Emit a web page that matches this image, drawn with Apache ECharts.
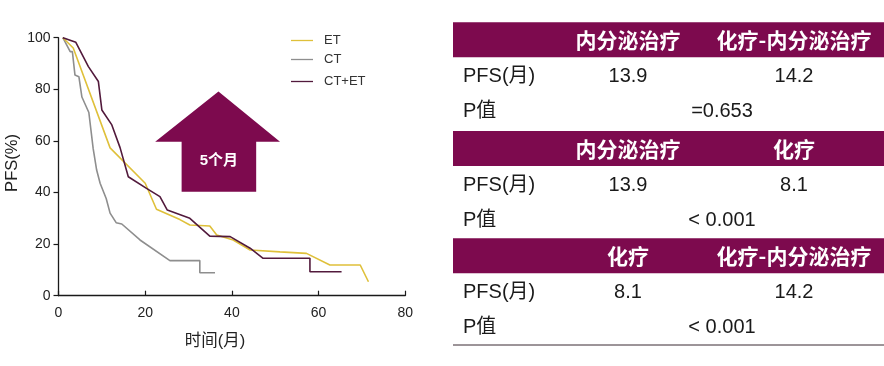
<!DOCTYPE html>
<html><head><meta charset="utf-8">
<script src="https://cdn.jsdelivr.net/npm/echarts@6/dist/echarts.min.js"></script>
<style>html,body{margin:0;padding:0;background:#fff}#c{width:884px;height:366px}</style>
</head><body><div id="c"></div>
<script>
// ---- data ----
var seriesNames = ['ET', 'CT', 'CT+ET'];
var etTime   = [1, 3.4, 11.9, 20, 22.6, 28, 30.3, 34.9, 36.5, 40.3, 44.2, 51.1, 57.2, 62.6, 69.6, 71.5];
var etPFS    = [100, 96, 57.3, 43.6, 33.5, 29.5, 27.4, 27, 23.5, 21.6, 17.7, 17, 16.4, 11.9, 11.9, 5.4];
var ctTime   = [1, 2.7, 3.2, 3.8, 4.7, 5.4, 7, 8, 8.8, 9.6, 11, 11.9, 13.3, 14.6, 18.8, 25.7, 32.6, 32.6, 36.1];
var ctPFS    = [100, 94.6, 94.6, 85.5, 84.9, 77, 71, 57, 48.7, 43.6, 37.7, 32, 28.3, 27.8, 21.6, 13.6, 13.6, 8.9, 8.9];
var ctetTime = [1, 4, 6.9, 9.2, 10, 12.3, 14.2, 16.1, 20.3, 23.4, 25.1, 30.3, 34.9, 39.6, 44.2, 47.2, 58, 58, 65.3];
var ctetPFS  = [100, 98.2, 88.8, 83, 72, 66.2, 57.4, 46.1, 41.6, 38.4, 33.2, 30, 23.1, 22.9, 18.4, 14.5, 14.5, 9.3, 9.3];
var xTicks = [0, 20, 40, 60, 80];
var yTicks = [0, 20, 40, 60, 80, 100];
var arrowLabel = '5个月';
// table
var tableHeaders = [['内分泌治疗', '化疗-内分泌治疗'], ['内分泌治疗', '化疗'], ['化疗', '化疗-内分泌治疗']];
var tablePFS = [['13.9', '14.2'], ['13.9', '8.1'], ['8.1', '14.2']];
var tableP = ['=0.653', '< 0.001', '< 0.001'];
var rowLabelPFS = 'PFS(月)';
var rowLabelP = 'P值';
var xName = '时间(月)';
var yName = 'PFS(%)';

// ---- chart ----
var colors = ['#dfc03a', '#8e8e8e', '#521a3c'];
var FONT = '"Liberation Sans", Arial, "Noto Sans CJK SC", sans-serif';
var MAROON = '#7d0a4e';
function zip(a, b) { return a.map(function (v, i) { return [v, b[i]]; }); }

var chart = echarts.init(document.getElementById('c'), null, { renderer: 'canvas' });
var legendTops = [29, 48, 70];
var option = {
  animation: false,
  textStyle: { fontFamily: FONT },
  grid: { left: 58.5, right: 478.7, top: 37.7, bottom: 70.3, containLabel: false },
  xAxis: {
    type: 'value', min: xTicks[0], max: xTicks[xTicks.length - 1], interval: 20,
    axisLine: { show: true, lineStyle: { color: '#1a1a1a', width: 1.3 } },
    axisTick: { show: true, inside: true, length: 5, lineStyle: { color: '#1a1a1a', width: 1.2 } },
    axisLabel: { color: '#222', fontSize: 14, margin: 10, fontFamily: FONT },
    splitLine: { show: false }
  },
  yAxis: {
    type: 'value', min: yTicks[0], max: yTicks[yTicks.length - 1], interval: 20,
    axisLine: { show: true, lineStyle: { color: '#1a1a1a', width: 1.3 } },
    axisTick: { show: true, inside: false, length: 5, lineStyle: { color: '#1a1a1a', width: 1.2 } },
    axisLabel: { color: '#222', fontSize: 14, margin: 8, fontFamily: FONT },
    splitLine: { show: false }
  },
  legend: seriesNames.map(function (n, i) {
    return {
      data: [n], left: 286, top: legendTops[i], orient: 'vertical',
      icon: 'rect', itemWidth: 22, itemHeight: 1.3,
      textStyle: { fontSize: 13, color: '#333', fontFamily: FONT, padding: [0, 0, 0, 6] },
      selectedMode: false
    };
  }),
  series: [
    { name: seriesNames[0], type: 'line', data: zip(etTime, etPFS), showSymbol: false, symbol: 'none',
      lineStyle: { color: colors[0], width: 1.6 }, itemStyle: { color: colors[0] }, z: 3 },
    { name: seriesNames[1], type: 'line', data: zip(ctTime, ctPFS), showSymbol: false, symbol: 'none',
      lineStyle: { color: colors[1], width: 1.6 }, itemStyle: { color: colors[1] }, z: 2 },
    { name: seriesNames[2], type: 'line', data: zip(ctetTime, ctetPFS), showSymbol: false, symbol: 'none',
      lineStyle: { color: colors[2], width: 1.6 }, itemStyle: { color: colors[2] }, z: 4 }
  ]
};
chart.setOption(option);

// arrow annotation placed in data coordinates
function P(t, v) { return chart.convertToPixel({ gridIndex: 0 }, [t, v]); }
var tip = P(36.9, 79.1), hl = P(22.3, 59.7), hr = P(51.1, 59.7);
var sl = P(28.4, 59.7), sr = P(45.6, 59.7), bl = P(28.4, 40.3), br = P(45.6, 40.3);
var arrowPts = [tip, hr, [sr[0], hr[1]], br, bl, [sl[0], hl[1]], hl];

var g = [];
g.push({ type: 'polygon', shape: { points: arrowPts }, style: { fill: MAROON }, z: 10 });
g.push({ type: 'text', x: (sl[0] + sr[0]) / 2, y: 160.7, z: 11,
  style: { text: arrowLabel, fill: '#fff', font: 'bold 15px ' + FONT, align: 'center', verticalAlign: 'middle' } });
// axis names
g.push({ type: 'text', x: 215, y: 341.5, style: { text: xName, fill: '#222', font: '16.5px ' + FONT, align: 'center', verticalAlign: 'middle' } });
g.push({ type: 'text', x: 12, y: 163, rotation: Math.PI / 2,
  style: { text: yName, fill: '#222', font: '16.5px ' + FONT, align: 'center', verticalAlign: 'middle' } });

// table
var bandTops = [22.3, 131, 238.3];
var colX = [628, 794], pX = 722, labelX = 463, tLeft = 453;
bandTops.forEach(function (top, i) {
  g.push({ type: 'rect', shape: { x: tLeft, y: top, width: 884 - tLeft, height: 35 }, style: { fill: MAROON } });
  tableHeaders[i].forEach(function (h, j) {
    g.push({ type: 'text', x: colX[j], y: top + 18, style: { text: h, fill: '#fff', font: 'bold 21px "Noto Sans CJK SC", sans-serif', align: 'center', verticalAlign: 'middle' } });
  });
  g.push({ type: 'text', x: labelX, y: top + 54.5, style: { text: rowLabelPFS, fill: '#1a1a1a', font: '20px ' + FONT, align: 'left', verticalAlign: 'middle' } });
  tablePFS[i].forEach(function (v, j) {
    g.push({ type: 'text', x: colX[j], y: top + 54.5, style: { text: v, fill: '#1a1a1a', font: '20px ' + FONT, align: 'center', verticalAlign: 'middle' } });
  });
  g.push({ type: 'text', x: labelX, y: top + 89.5, style: { text: rowLabelP, fill: '#1a1a1a', font: '20px ' + FONT, align: 'left', verticalAlign: 'middle' } });
  g.push({ type: 'text', x: pX, y: top + 89.5, style: { text: tableP[i], fill: '#1a1a1a', font: '20px ' + FONT, align: 'center', verticalAlign: 'middle' } });
});
g.push({ type: 'line', shape: { x1: tLeft, y1: 345, x2: 884, y2: 345 }, style: { stroke: '#3a2a33', lineWidth: 1 } });

chart.setOption({ graphic: g });
</script></body></html>
